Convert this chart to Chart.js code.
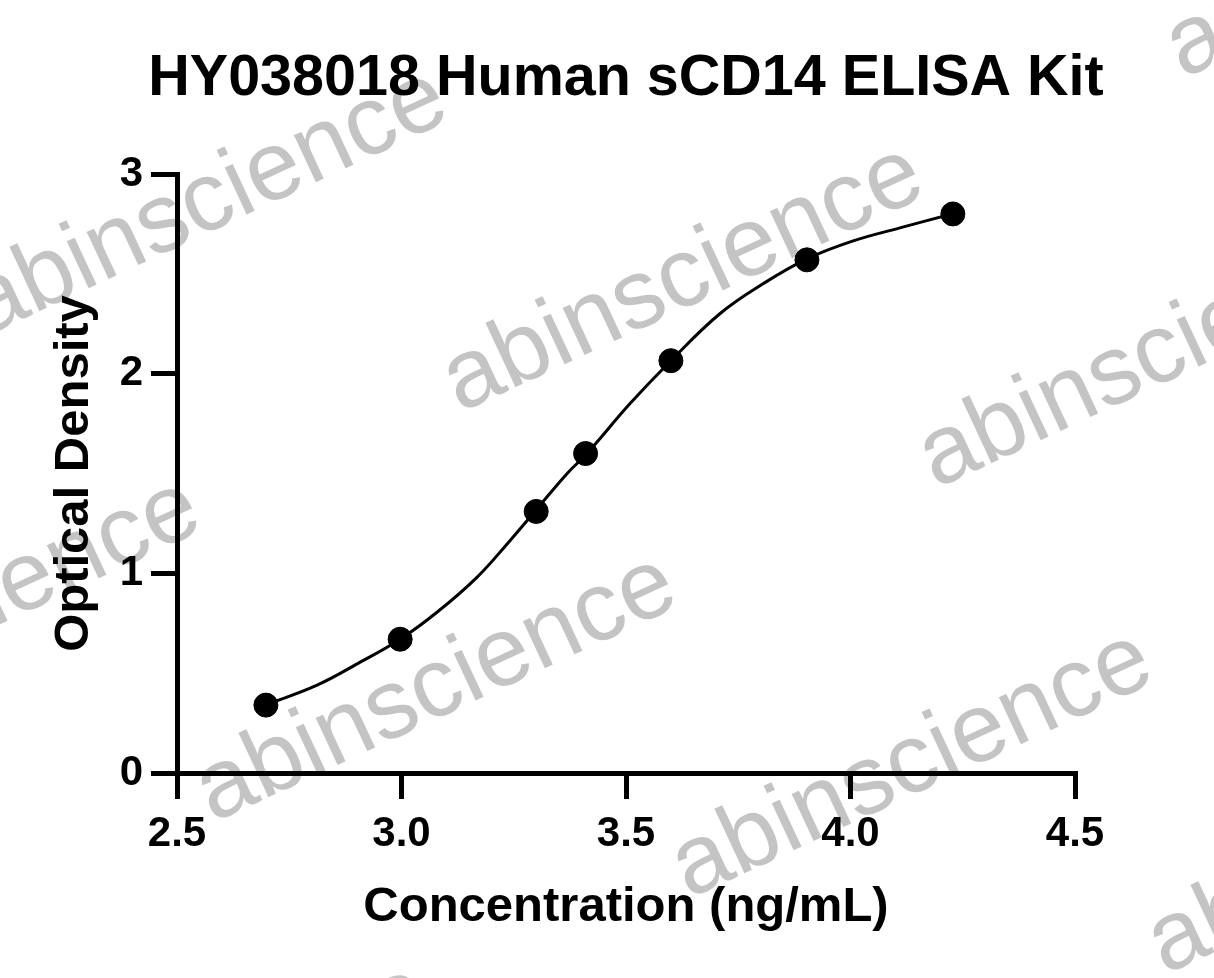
<!DOCTYPE html>
<html>
<head>
<meta charset="utf-8">
<script src="https://cdn.jsdelivr.net/npm/chart.js"></script>
<style>
  body { margin: 0; background: #fff; }
  #wrap { width: 1214px; height: 978px; }
</style>
</head>
<body>
<div id="wrap"><canvas id="grafico" width="1214" height="978"></canvas></div>
<script>
// log10 da concentração (ng/mL) e densidade óptica
const logConc = [2.698, 2.997, 3.300, 3.410, 3.600, 3.903, 4.228];
const densidade = [0.34, 0.67, 1.31, 1.60, 2.065, 2.57, 2.80];

// curva ajustada, lida ponto a ponto na figura
const curvaX = [2.696, 2.812, 2.908, 2.997, 3.079, 3.168, 3.242, 3.297, 3.369, 3.413,
                3.509, 3.600, 3.709, 3.805, 3.903, 4.006, 4.110, 4.226];
const curvaY = [0.34, 0.44, 0.555, 0.67, 0.805, 0.98, 1.165, 1.31, 1.50, 1.60,
                1.85, 2.065, 2.30, 2.45, 2.575, 2.665, 2.73, 2.80];

const xTicks = [2.5, 3.0, 3.5, 4.0, 4.5];
const yTicks = [0, 1, 2, 3];

const fonte = "'Liberation Sans', Arial, Helvetica, sans-serif";

// marca d'água "abinscience" repetida em grade, atrás do gráfico
const marcaDagua = {
    id: 'marcaDagua',
    beforeDraw(chart) {
        const ctx = chart.ctx;
        ctx.save();
        ctx.fillStyle = '#fff';
        ctx.fillRect(0, 0, chart.width, chart.height);
        ctx.fillStyle = '#c4c4c4';
        ctx.font = '98px ' + fonte;
        ctx.textBaseline = 'alphabetic';
        const ox = 460, oy = 413;
        const a = [476, 76], b = [-247, 410];
        for (let i = -3; i <= 3; i++) {
            for (let j = -3; j <= 3; j++) {
                const x = ox + i * a[0] + j * b[0];
                const y = oy + i * a[1] + j * b[1];
                if (x < -700 || x > 1300 || y < -100 || y > 1300) continue;
                ctx.save();
                ctx.translate(x, y);
                ctx.rotate(-25 * Math.PI / 180);
                ctx.fillText('abinscience', 0, 0);
                ctx.restore();
            }
        }
        ctx.restore();
    }
};

const eixo = {
    grid: { drawOnChartArea: false, color: '#000', lineWidth: 5, tickLength: 26 },
    border: { color: '#000', width: 5 }
};

new Chart(document.getElementById('grafico'), {
    type: 'scatter',
    data: {
        datasets: [{
            // pontos medidos (primeiro = desenhado por cima)
            data: logConc.map((x, i) => ({ x: x, y: densidade[i] })),
            showLine: false,
            pointRadius: 12,
            pointBackgroundColor: '#000',
            pointBorderColor: '#000',
            clip: false
        }, {
            // curva de ajuste
            data: curvaX.map((x, i) => ({ x: x, y: curvaY[i] })),
            showLine: true,
            tension: 0.4,
            borderColor: '#000',
            borderWidth: 3,
            pointRadius: 0,
            clip: false
        }]
    },
    options: {
        responsive: false,
        animation: false,
        layout: { padding: { left: 38, right: 0, top: 0, bottom: 0 } },
        plugins: {
            legend: { display: false },
            tooltip: { enabled: false },
            title: {
                display: true,
                text: 'HY038018 Human sCD14 ELISA Kit',
                color: '#000',
                font: { family: fonte, size: 57.5, weight: 'bold' },
                padding: { top: 45, bottom: 60 }
            }
        },
        scales: {
            x: {
                type: 'linear',
                min: xTicks[0],
                max: xTicks[xTicks.length - 1],
                afterBuildTicks: s => { s.ticks = xTicks.map(v => ({ value: v })); },
                afterFit: s => { s.height = 205; },
                ticks: {
                    color: '#000',
                    padding: 10,
                    font: { family: fonte, size: 42, weight: 'bold' },
                    callback: v => Number(v).toFixed(1)
                },
                title: {
                    display: true,
                    text: 'Concentration (ng/mL)',
                    color: '#000',
                    font: { family: fonte, size: 49, weight: 'bold' },
                    padding: { top: 0, bottom: 41 }
                },
                ...eixo
            },
            y: {
                min: yTicks[0],
                max: yTicks[yTicks.length - 1],
                afterBuildTicks: s => { s.ticks = yTicks.map(v => ({ value: v })); },
                afterFit: s => { s.width = 139; },
                ticks: {
                    color: '#000',
                    padding: 8,
                    font: { family: fonte, size: 42, weight: 'bold' },
                    callback: v => String(v)
                },
                title: {
                    display: true,
                    text: 'Optical Density',
                    color: '#000',
                    font: { family: fonte, size: 49, weight: 'bold' },
                    padding: { top: 7, bottom: 0 }
                },
                ...eixo
            },
            // eixo vazio à direita só para reservar a margem
            margem: {
                type: 'linear',
                position: 'right',
                display: true,
                afterFit: s => { s.width = 139; },
                ticks: { display: false },
                grid: { display: false },
                border: { display: false }
            }
        }
    },
    plugins: [marcaDagua]
});
</script>
</body>
</html>
